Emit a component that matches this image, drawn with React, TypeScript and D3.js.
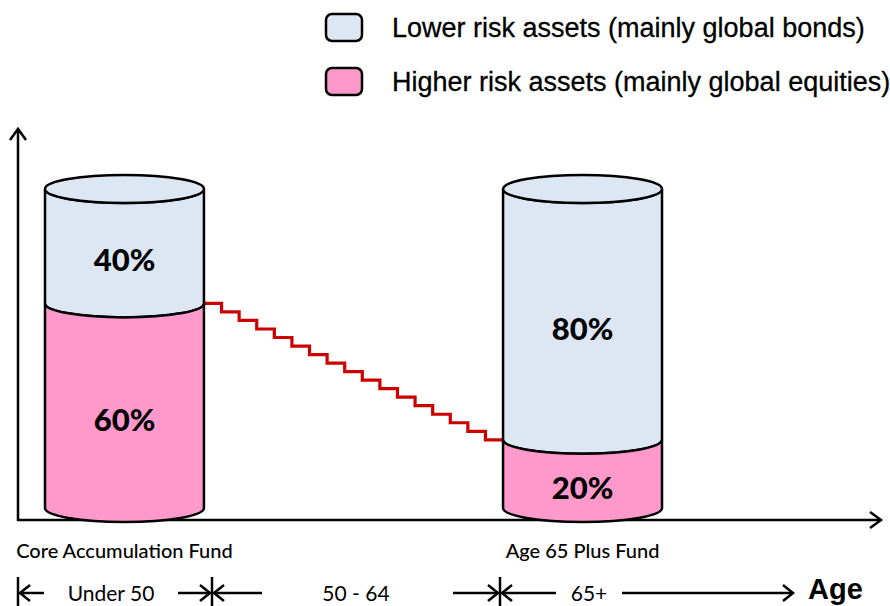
import React from "react";
import * as d3 from "d3";

// funds shown as cylinders
const funds = ["Core Accumulation Fund", "Age 65 Plus Fund"];
const lowerRisk = [40, 80];
const higherRisk = [60, 20];
const seriesNames = [
    "Lower risk assets (mainly global bonds)",
    "Higher risk assets (mainly global equities)",
];
// equity share during the 50 - 64 glide path
const glidePath = [60, 57.5, 55, 52.5, 50, 47.5, 45, 42.5, 40, 37.5, 35, 32.5, 30, 27.5, 25, 22.5, 20];
const ageBands = ["Under 50", "50 - 64", "65+"];
const axisTitle = "Age";

const W = 890;
const H = 606;
const BLUE = "#dce7f3";
const PINK = "#ff99cc";
const RED = "#cc0000";

// layout of the age row (annotation, not data)
const bandLayout = [
    { x0: 18, x1: 212, labelX: 111, leftEnd: 44, rightStart: 178 },
    { x0: 212, x1: 500, labelX: 356, leftEnd: 262, rightStart: 453 },
    { x0: 500, x1: 795, labelX: 589, leftEnd: 556, rightStart: 622 },
];

const App: React.FC = () => {
    const axisX = 18;
    const axisY = 520;
    const ry = 14;
    const cylTop = 189;

    const x = d3.scaleBand<string>().domain(funds).range([45, 662]).paddingInner(0.653).paddingOuter(0);
    const y = d3.scaleLinear().domain([0, 100]).range([508, 167]);
    const bw = x.bandwidth();
    const rx = bw / 2;

    const segPath = (x0: number, yTop: number, yBot: number) => {
        const x1 = x0 + bw;
        return `M${x0},${yTop} L${x0},${yBot} A${rx},${ry} 0 0 0 ${x1},${yBot} L${x1},${yTop} A${rx},${ry} 0 0 1 ${x0},${yTop} Z`;
    };

    const gx = d3
        .scaleLinear()
        .domain([0, glidePath.length])
        .range([(x(funds[0]) as number) + bw, x(funds[1]) as number]);
    const gpts: [number, number][] = glidePath.map((v, i) => [gx(i), y(v)]);
    gpts.push([gx(glidePath.length), y(glidePath[glidePath.length - 1])]);
    const stepLine = d3.line().curve(d3.curveStepAfter)(gpts) || "";

    const ageRowY = 593;
    const head = (tx: number, ty: number, dir: number) =>
        `M${tx - dir * 10},${ty - 8} L${tx},${ty} L${tx - dir * 10},${ty + 8}`;

    return (
        <svg width={W} height={H} style={{ position: "absolute", left: 0, top: 0, background: "#fff" }}>
            {/* legend */}
            {seriesNames.map((s, i) => (
                <g key={s} transform={`translate(326,${14 + i * 54})`}>
                    <rect width={36} height={27} rx={6} fill={i === 0 ? BLUE : PINK} stroke="#000" strokeWidth={2.5} />
                    <text
                        x={66}
                        y={23}
                        fontFamily="'Liberation Sans', Arial, sans-serif"
                        fontSize={27}
                        fill="#000"
                        stroke="#000"
                        strokeWidth={0.3}
                    >
                        {s}
                    </text>
                </g>
            ))}

            {/* axes */}
            <g stroke="#000" strokeWidth={2.5} fill="none">
                <line x1={axisX} y1={130} x2={axisX} y2={axisY + 1} />
                <path d={`M${axisX - 8},${140} L${axisX},${129} L${axisX + 8},${140}`} />
                <line x1={axisX - 1} y1={axisY} x2={880} y2={axisY} />
                <path d={`M${870},${axisY - 8} L${881},${axisY} L${870},${axisY + 8}`} />
            </g>

            {/* glide path */}
            <path d={stepLine} fill="none" stroke={RED} strokeWidth={3.2} />

            {/* cylinders */}
            {funds.map((f, i) => {
                const x0 = x(f) as number;
                const split = y(higherRisk[i]);
                const bottom = y(0);
                const cx = x0 + rx;
                return (
                    <g key={f}>
                        <path d={segPath(x0, cylTop, split)} fill={BLUE} stroke="#000" strokeWidth={2.5} />
                        <path d={segPath(x0, split, bottom)} fill={PINK} stroke="#000" strokeWidth={2.5} />
                        <ellipse cx={cx} cy={cylTop} rx={rx} ry={ry} fill={BLUE} stroke="#000" strokeWidth={2.5} />
                        <text
                            x={cx}
                            y={(cylTop + split) / 2 + ry}
                            dy="0.36em"
                            textAnchor="middle"
                            fontFamily="Lato, sans-serif"
                            fontWeight={900}
                            fontSize={31}
                        >
                            {lowerRisk[i]}%
                        </text>
                        <text
                            x={cx}
                            y={(split + bottom) / 2 + ry}
                            dy="0.36em"
                            textAnchor="middle"
                            fontFamily="Lato, sans-serif"
                            fontWeight={900}
                            fontSize={31}
                        >
                            {higherRisk[i]}%
                        </text>
                        <text x={cx} y={558} textAnchor="middle" fontFamily="Lato, sans-serif" fontSize={20} fontWeight={500}>
                            {f}
                        </text>
                    </g>
                );
            })}

            {/* age bands */}
            <g stroke="#000" strokeWidth={2.5} fill="none">
                {bandLayout.map((b, i) => (
                    <g key={ageBands[i]}>
                        <line x1={b.x0} y1={577} x2={b.x0} y2={H} />
                        <line x1={b.x0 + 2} y1={ageRowY} x2={b.leftEnd} y2={ageRowY} />
                        <path d={head(b.x0 + 2, ageRowY, -1)} />
                        <line x1={b.rightStart} y1={ageRowY} x2={b.x1 - 2} y2={ageRowY} />
                        <path d={head(b.x1 - 2, ageRowY, 1)} />
                    </g>
                ))}
            </g>
            {bandLayout.map((b, i) => (
                <text key={ageBands[i]} x={b.labelX} y={601} textAnchor="middle" fontFamily="Lato, sans-serif" fontSize={21}>
                    {ageBands[i]}
                </text>
            ))}
            <text x={808} y={599} fontFamily="'Liberation Sans', Arial, sans-serif" fontWeight={700} fontSize={29}>
                {axisTitle}
            </text>
        </svg>
    );
};

export default App;
